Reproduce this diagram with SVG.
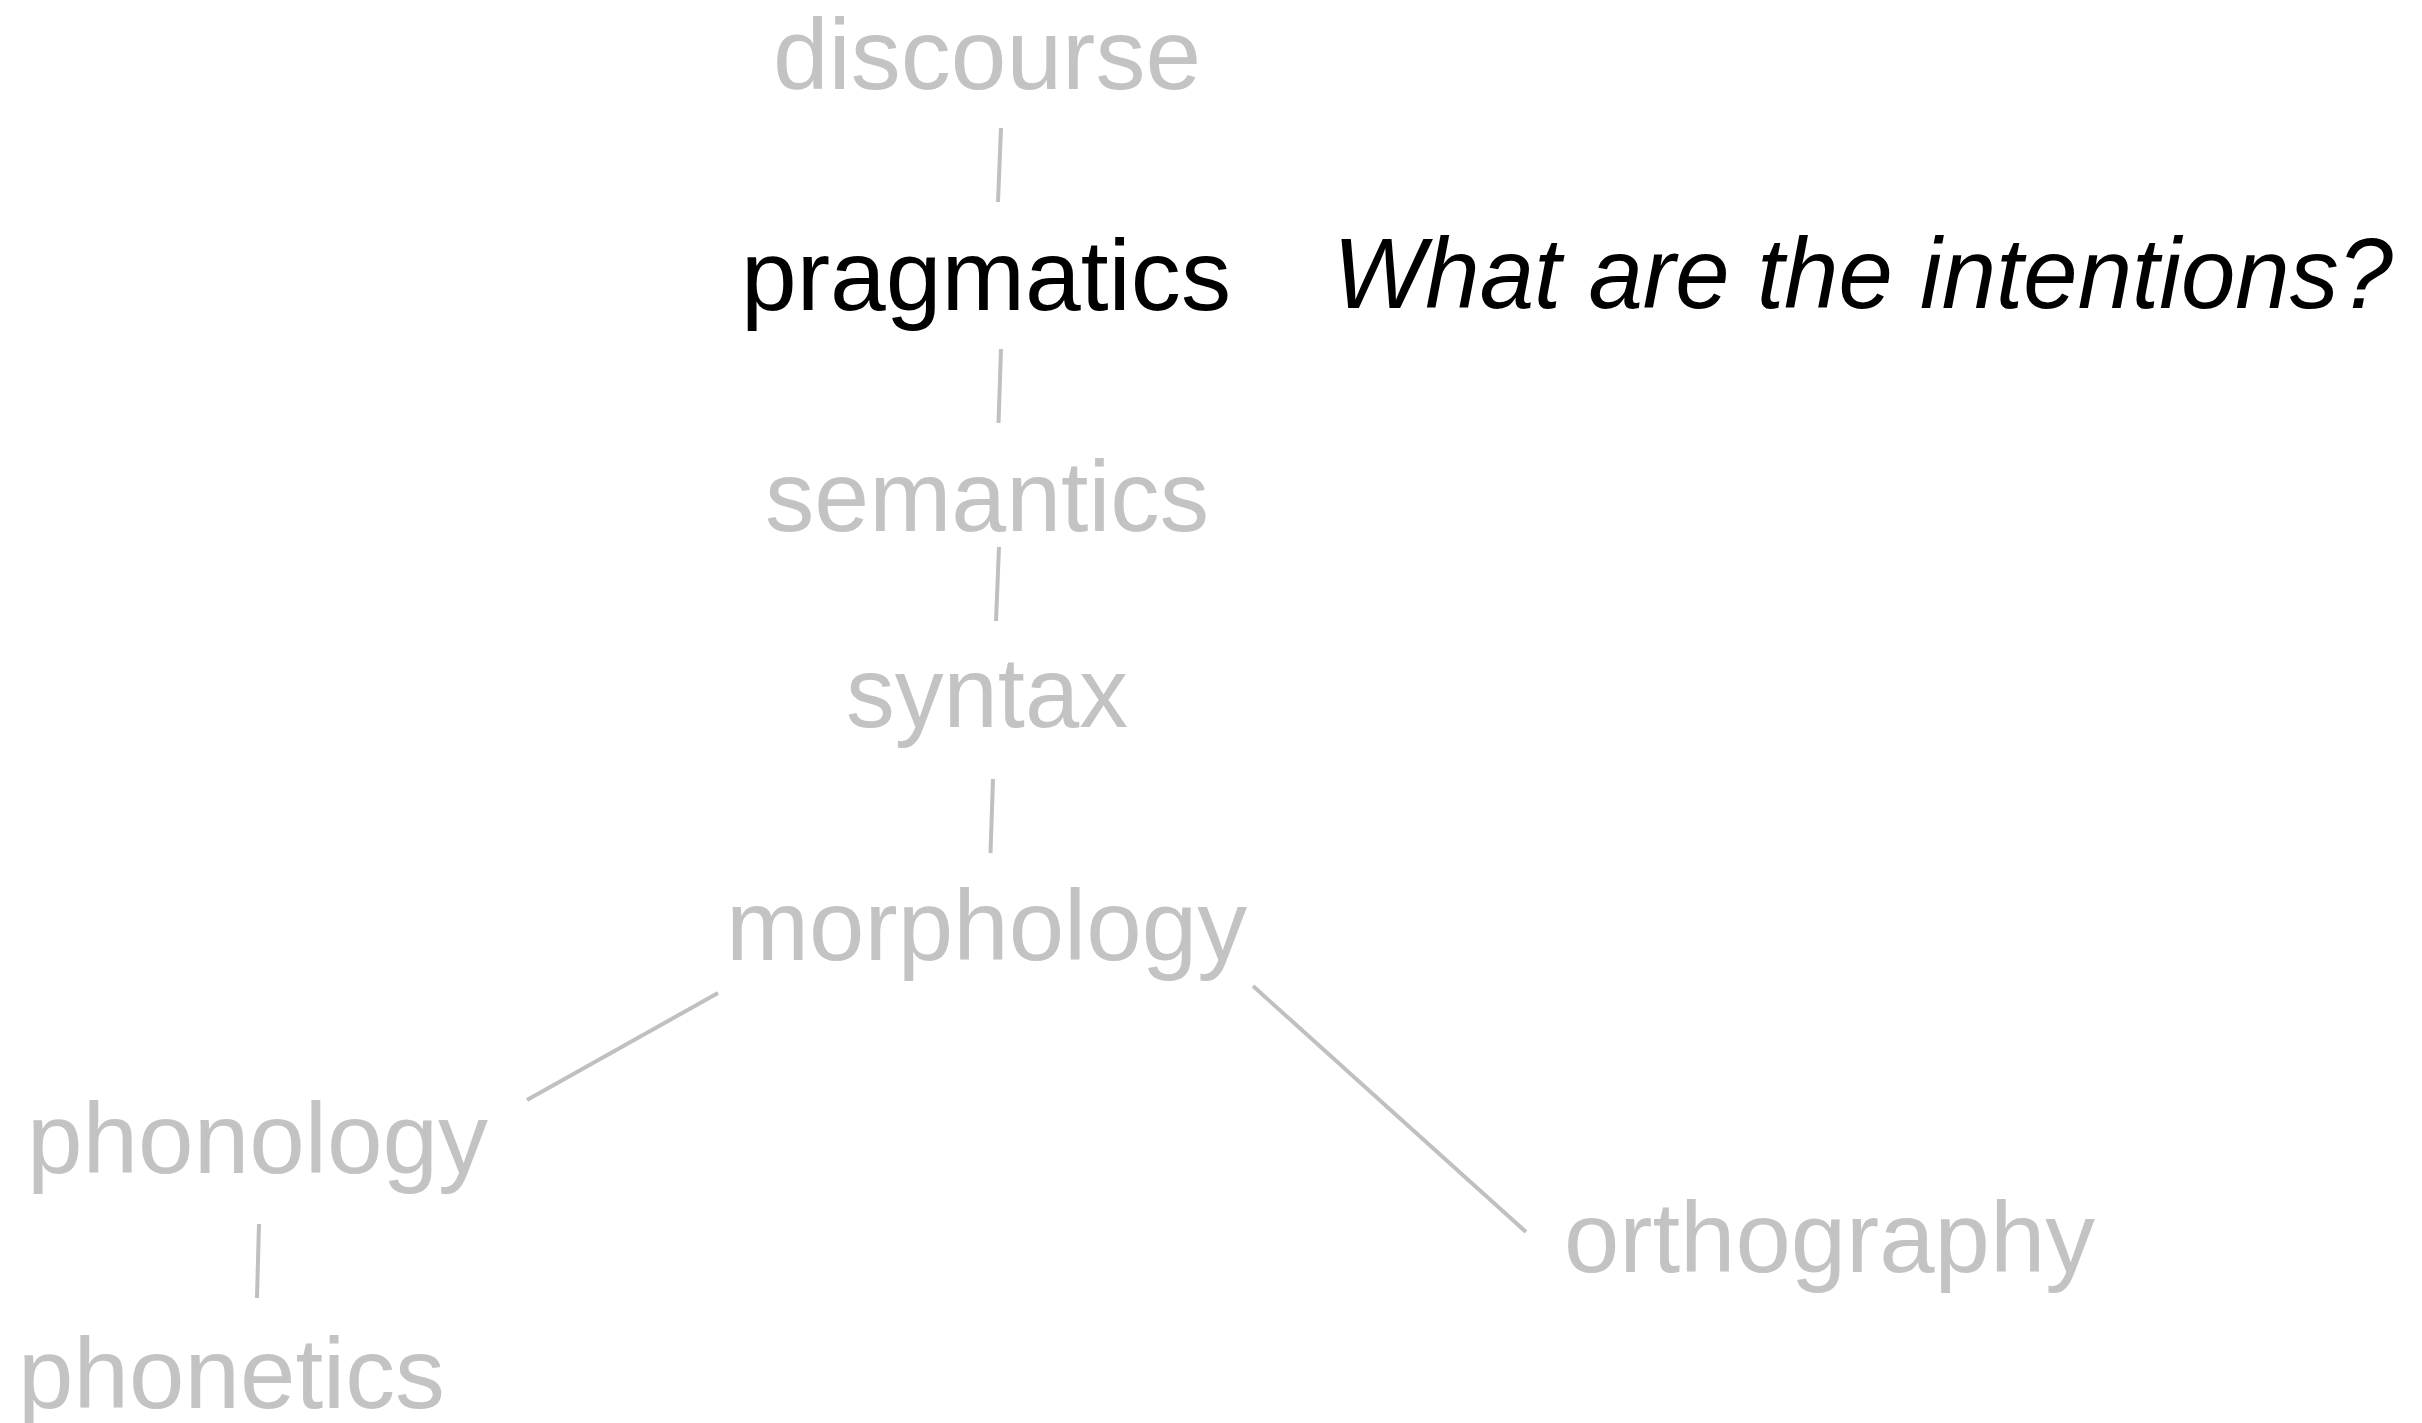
<svg xmlns="http://www.w3.org/2000/svg" width="2422" height="1423" viewBox="0 0 2422 1423">
<style>
text { font-family: "Liberation Sans", Arial, sans-serif; font-size: 100px; }
.dim { fill: #c3c3c3; }
.active { fill: #000000; }
.q { fill: #000000; font-style: italic; }
.edge { stroke: #c0c0c0; stroke-width: 4; fill: none; }
</style>
<rect width="2422" height="1423" fill="#ffffff"/>
<g id="connectors">
<line class="edge" x1="1001" y1="128" x2="998" y2="202"/>
<line class="edge" x1="1001" y1="349" x2="998.5" y2="423"/>
<line class="edge" x1="999" y1="547" x2="996" y2="621"/>
<line class="edge" x1="993" y1="779" x2="990.5" y2="853"/>
<line class="edge" x1="718" y1="993" x2="527" y2="1100"/>
<line class="edge" x1="1253" y1="986" x2="1526" y2="1232"/>
<line class="edge" x1="259" y1="1224" x2="257" y2="1298"/>
</g>
<g id="discourse"><text class="dim" x="773" y="89" textLength="428" lengthAdjust="spacingAndGlyphs">discourse</text></g>
<g id="pragmatics"><text class="active" x="741" y="310" textLength="490" lengthAdjust="spacingAndGlyphs">pragmatics</text></g>
<g id="question"><text class="q" x="1333" y="308" textLength="1060" lengthAdjust="spacingAndGlyphs">What are the intentions?</text></g>
<g id="semantics"><text class="dim" x="765" y="531" textLength="444" lengthAdjust="spacingAndGlyphs">semantics</text></g>
<g id="syntax"><text class="dim" x="846" y="727" textLength="282" lengthAdjust="spacingAndGlyphs">syntax</text></g>
<g id="morphology"><text class="dim" x="726" y="960" textLength="521" lengthAdjust="spacingAndGlyphs">morphology</text></g>
<g id="phonology"><text class="dim" x="27" y="1173" textLength="461" lengthAdjust="spacingAndGlyphs">phonology</text></g>
<g id="phonetics"><text class="dim" x="18" y="1408" textLength="427" lengthAdjust="spacingAndGlyphs">phonetics</text></g>
<g id="orthography"><text class="dim" x="1564" y="1272" textLength="531" lengthAdjust="spacingAndGlyphs">orthography</text></g>
</svg>
